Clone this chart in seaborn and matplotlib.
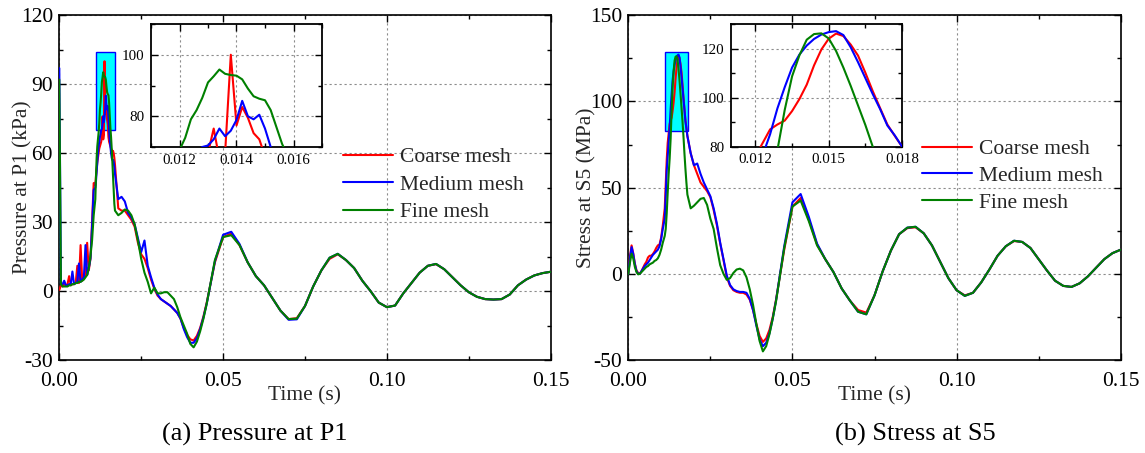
import numpy as np
import pandas as pd
import matplotlib
matplotlib.use("Agg")
import matplotlib.pyplot as plt
import seaborn as sns
from matplotlib.patches import Rectangle
from matplotlib.ticker import MultipleLocator, FormatStrFormatter

# ---------------- data ----------------
mesh_labels = ["Coarse mesh", "Medium mesh", "Fine mesh"]
mesh_colors = ["#FF0000", "#0000FF", "#008000"]

# time grids (s)
t_a = np.round(np.arange(0.0, 0.01051, 0.0005), 5)        # 22 samples
t_p_b = np.round(np.arange(0.011, 0.01701, 0.0002), 5)    # 31 samples
t_p_c = np.round(np.arange(0.018, 0.04501, 0.001), 4)     # 28 samples
t_s_b = np.round(np.arange(0.0111, 0.01801, 0.0003), 5)   # 24 samples
t_s_c = np.round(np.arange(0.019, 0.04501, 0.001), 4)     # 27 samples
t_d = np.round(np.arange(0.0475, 0.15001, 0.0025), 5)     # 42 samples

t_pressure = np.concatenate([t_a, t_p_b, t_p_c, t_d])
t_stress = np.concatenate([t_a, t_s_b, t_s_c, t_d])

# Pressure at P1 (kPa)
p_coarse = ([0.5, 2.5, 2, 3, 2.5, 3, 6.5, 2.5, 3, 3, 3.5, 11, 3.5, 20, 4.5, 6, 7, 21, 9, 14, 30, 47]
            + [46, 50, 53, 56, 58, 60, 62, 63, 64, 65, 68, 76, 66, 68, 100, 77, 83, 79.5, 74.5, 72.5,
               67, 65, 64, 63, 62, 61.5, 61, 61, 60, 58, 55]
            + [36, 35, 35, 33, 31, 28, 21, 16, 14, 10, 5, 1, -2, -3.5, -4.5, -5.5, -6.5, -8, -9.5, -12,
               -16, -19, -21, -21.5, -19.5, -16, -11, -5]
            + [12.5, 23.5, 25, 20, 12.5, 6.5, 2.5, -3, -8.5, -12.2, -11.8, -6.5, 2, 9, 14, 16, 13.5, 10,
               4.5, 0, -5, -7, -6.3, -1, 3.5, 8, 11, 11.7, 9.5, 6, 2.5, -0.5, -2.5, -3.5, -3.7, -3.5,
               -1.5, 2.5, 5, 6.8, 7.8, 8.4])
p_medium = ([97, 3, 3, 4.5, 2.5, 2.5, 3, 3, 8.5, 3, 3.5, 4, 12, 4, 5, 6, 20, 7, 10, 14, 28, 44]
            + [45, 48, 52, 56, 60, 63, 65, 67, 68.5, 70, 70.5, 72.5, 76, 73.5, 75.3, 78.8, 85, 80, 79,
               80.5, 76, 70, 66, 63, 60, 58, 57, 57, 56, 54, 51]
            + [40, 41, 39, 34, 32, 29, 23, 17, 22, 11, 6, 1.5, -1.5, -3.5, -4.5, -5.5, -6.5, -8, -9.5,
               -12, -16.5, -20, -22.5, -22.5, -20.5, -16.5, -11.5, -5.5]
            + [13, 24.5, 25.8, 20.5, 12.5, 6.5, 2.5, -3, -8.5, -12.5, -12.3, -6.5, 2, 9, 14.5, 16.2,
               13.5, 10, 4.5, 0, -5, -7, -6.3, -1, 3.5, 8, 11, 11.8, 9.5, 6, 2.5, -0.5, -2.5, -3.5,
               -3.7, -3.5, -1.5, 2.5, 5, 6.8, 7.8, 8.4])
p_fine = ([92, 3, 2, 2, 2, 2, 2.5, 2.5, 3, 3, 3.5, 3.5, 4, 4, 4.5, 5, 6, 7, 10, 15, 22, 33]
          + [40, 50, 58, 63, 66, 69, 73, 79, 82, 86, 91, 93, 95.2, 93.8, 93.4, 93.2, 92, 89, 86.5,
             85.7, 85.2, 82, 76.5, 71, 67, 62, 56, 50, 44, 38, 35]
          + [33, 34, 35.5, 35, 33, 29, 22, 14, 8, 4, -1, 1.5, -1, -1, -0.5, -0.5, -2, -3.5, -7,
             -11.5, -15, -18.5, -23, -24.5, -22, -17.5, -12, -5.5]
          + [13.5, 23.5, 24.3, 20, 12.5, 6.5, 2.5, -3, -8.5, -12.2, -12, -6.5, 2, 9, 14.5, 16.2,
             13.5, 10, 4.5, 0, -5, -7, -6.3, -1, 3.5, 8, 11, 11.8, 9.5, 6, 2.5, -0.5, -2.5, -3.5,
             -3.7, -3.5, -1.5, 2.5, 5, 6.8, 7.8, 8.4])

# Stress at S5 (MPa)
s_coarse = ([0, 10, 16.5, 12, 6, 2, 0.5, 0, 1.5, 3.5, 5.5, 7, 9.5, 10.5, 10.5, 11.5, 13, 15, 16.5, 17, 21, 28]
            + [38, 52, 66, 76, 81.5, 87, 89, 90.6, 94.5, 99.4, 105.3, 113.2, 119.7, 124.1, 126.2,
               125.2, 121.7, 117.2, 110.2, 102.7, 95.8, 89, 84.4, 80]
            + [70, 63, 58, 53, 50.5, 48, 44.5, 37, 28, 17.5, 8, -2, -7, -9.5, -10.5, -11, -11, -12,
               -15, -21, -29, -36, -39.5, -37.5, -32.5, -25, -15]
            + [14, 39, 44, 31.5, 17, 8.5, 1, -8.5, -15.5, -21, -22.5, -12.5, 1.5, 13.5, 23, 26.5, 27,
               23.5, 16.5, 7, -2.5, -9.5, -12.5, -11, -5, 2.5, 10.5, 16, 19, 18.5, 15, 8.5, 2, -4,
               -7, -7.6, -5.5, -1.5, 3.5, 8.5, 12, 14])
s_medium = ([0, 9, 15.5, 11.5, 5.5, 1.5, 0, 0, 1.5, 3, 4.5, 5.5, 6.5, 8, 9.5, 11, 12, 13, 14, 16, 20, 26]
            + [32, 45, 60, 68, 76.5, 85, 95.6, 104.3, 112.3, 117.6, 121.3, 124, 125.8, 126.8, 127.2,
               125.6, 120.6, 114.5, 108, 101.5, 95.4, 88.6, 84.6, 80]
            + [70, 63, 64, 58, 53, 49, 45, 38, 29, 18, 8.5, -1, -6.5, -9, -10, -10.5, -10.5, -11,
               -14.5, -21, -30, -38, -42, -40, -34.5, -26, -15.5]
            + [16, 41.5, 46.3, 33, 17.5, 8.5, 1, -8.5, -15.5, -22, -23.5, -12.5, 1.5, 13.5, 23, 26.8,
               27.3, 23.5, 16.5, 7, -2.5, -9.5, -12.8, -11, -5, 2.5, 10.5, 16, 19.2, 18.5, 15, 8.5,
               2, -4, -7, -7.6, -5.5, -1.5, 3.5, 8.5, 12, 14])
s_fine = ([0, 6.5, 11.7, 9, 4, 1, -0.3, 0, 1, 2, 3, 4, 4.5, 5.5, 6, 6.5, 7.5, 8, 9, 11, 14, 18]
          + [22, 26, 35, 47, 58, 67, 78.5, 95, 108.7, 117.3, 123.7, 126, 126.3, 124.2, 119.1, 112.3,
             104.8, 96.8, 88.8, 80, 70, 61, 53, 46]
          + [38, 39.5, 41.5, 43.5, 44, 40, 32, 26, 15, 5, 0, -3.5, -2.5, 0.5, 2.5, 3, 2, -2, -9,
             -18, -29, -39, -45, -42, -35, -26, -16]
          + [15, 39, 42.5, 30.5, 16.5, 8.5, 1, -8.5, -15.5, -22, -23.5, -12.5, 1.5, 13.5, 23, 26.8,
             27.3, 23.5, 16.5, 7, -2.5, -9.5, -12.8, -11, -5, 2.5, 10.5, 16, 19.2, 18.5, 15, 8.5,
             2, -4, -7, -7.6, -5.5, -1.5, 3.5, 8.5, 12, 14])

# zoom windows (data units): x0, x1, y0, y1
p_zoom_box = (0.0112, 0.0170, 70, 104)
s_zoom_box = (0.0113, 0.0183, 83, 128.5)
p_inset_lim = (0.011, 0.017, 70, 110)
s_inset_lim = (0.011, 0.018, 80, 130)

panel_titles = ["(a) Pressure at P1", "(b) Stress at S5"]
y_labels = ["Pressure at P1 (kPa)", "Stress at S5 (MPa)"]
x_label = "Time (s)"


def long_df(t, series):
    frames = []
    for lab, vals in zip(mesh_labels, series):
        frames.append(pd.DataFrame({"t": t, "v": np.asarray(vals, float), "mesh": lab}))
    return pd.concat(frames, ignore_index=True)


df_p = long_df(t_pressure, [p_coarse, p_medium, p_fine])
df_s = long_df(t_stress, [s_coarse, s_medium, s_fine])

# ---------------- style ----------------
sns.set_theme(style="ticks")
plt.rcParams["font.family"] = ["Liberation Serif", "DejaVu Serif"]
plt.rcParams["axes.unicode_minus"] = False

palette = dict(zip(mesh_labels, mesh_colors))
FS = 15.5
W, H = 1145, 453
fig = plt.figure(figsize=(W / 100, H / 100), dpi=100)


def px_rect(x0, y0, x1, y1):
    return [x0 / W, 1 - y1 / H, (x1 - x0) / W, (y1 - y0) / H]


def style_axes(ax, xmaj, xmin, ymaj, ymin, fs, xpad, ypad, spine_lw=1.2):
    ax.xaxis.set_major_locator(MultipleLocator(xmaj))
    ax.xaxis.set_minor_locator(MultipleLocator(xmin))
    ax.yaxis.set_major_locator(MultipleLocator(ymaj))
    ax.yaxis.set_minor_locator(MultipleLocator(ymin))
    ax.tick_params(which="both", direction="in", top=True, right=True,
                   labelsize=fs, width=1.0, color="black", labelcolor="black")
    ax.tick_params(axis="x", which="both", pad=xpad)
    ax.tick_params(axis="y", which="both", pad=ypad)
    ax.tick_params(which="major", length=5)
    ax.tick_params(which="minor", length=3)
    ax.grid(True, which="major", color="#8c8c8c", linestyle=(0, (2, 2.5)), linewidth=0.8)
    ax.set_axisbelow(True)
    for sp in ax.spines.values():
        sp.set_color("black")
        sp.set_linewidth(spine_lw)
        sp.set_visible(True)


def draw(ax, df):
    sns.lineplot(data=df, x="t", y="v", hue="mesh", hue_order=mesh_labels, palette=palette,
                 estimator=None, sort=True, linewidth=1.5, legend=False, ax=ax, zorder=3)


configs = [
    dict(df=df_p, rect=px_rect(59.3, 15.3, 550.7, 360.0), ylim=(-30, 120), ymaj=30, ymin=15,
         box=p_zoom_box, inset=px_rect(151, 24, 322, 147), ilim=p_inset_lim, ixmaj=0.002,
         ixmin=0.001, ixfmt="%.3f", iymaj=20, iymin=10, leg=(0.577, 0.618), lsp=0.35,
         ylab_x=-0.0749, title_x=162),
    dict(df=df_s, rect=px_rect(628.3, 15.3, 1120.7, 360.0), ylim=(-50, 150), ymaj=50, ymin=25,
         box=s_zoom_box, inset=px_rect(731, 24.3, 902, 146.5), ilim=s_inset_lim, ixmaj=0.003,
         ixmin=0.0015, ixfmt="%.3f", iymaj=20, iymin=10, leg=(0.596, 0.641), lsp=0.31,
         ylab_x=-0.0839, title_x=835),
]

for i, c in enumerate(configs):
    ax = fig.add_axes(c["rect"])
    draw(ax, c["df"])
    ax.set_xlim(0, 0.15)
    ax.set_ylim(*c["ylim"])
    style_axes(ax, 0.05, 0.025, c["ymaj"], c["ymin"], FS, 8.5, 4.5)
    ax.xaxis.set_major_formatter(FormatStrFormatter("%.2f"))
    ax.yaxis.set_major_formatter(FormatStrFormatter("%d"))
    ax.set_xlabel(x_label, fontsize=FS, va="center")
    ax.xaxis.set_label_coords(0.5, -0.1045)
    ax.set_ylabel(y_labels[i], fontsize=FS, va="center")
    ax.yaxis.set_label_coords(c["ylab_x"], 0.5)

    bx0, bx1, by0, by1 = c["box"]
    ax.add_patch(Rectangle((bx0, by0), bx1 - bx0, by1 - by0, facecolor="#00FFFF",
                           edgecolor="#0000FF", linewidth=1.0, zorder=2))

    leg = ax.legend(ax.lines[:3], mesh_labels, loc="upper left", bbox_to_anchor=c["leg"],
                    frameon=False, fontsize=FS, borderaxespad=0, borderpad=0,
                    handlelength=2.33, handletextpad=0.33, labelspacing=c["lsp"])
    leg.set_zorder(6)

    axin = fig.add_axes(c["inset"])
    axin.set_facecolor("white")
    draw(axin, c["df"])
    ix0, ix1, iy0, iy1 = c["ilim"]
    axin.set_xlim(ix0, ix1)
    axin.set_ylim(iy0, iy1)
    style_axes(axin, c["ixmaj"], c["ixmin"], c["iymaj"], c["iymin"], 10.8, 5, 5, spine_lw=1.3)
    axin.xaxis.set_major_formatter(FormatStrFormatter(c["ixfmt"]))
    axin.yaxis.set_major_formatter(FormatStrFormatter("%d"))
    axin.set_xlabel("")
    axin.set_ylabel("")

    fig.text(c["title_x"] / W, 1 - 434 / H, panel_titles[i], ha="left", va="center",
             fontsize=19, color="black")

fig.savefig("out.png", dpi=100)
